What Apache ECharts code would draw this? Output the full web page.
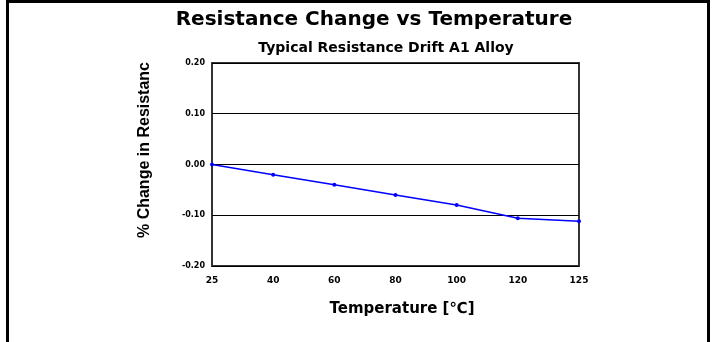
<!DOCTYPE html>
<html>
<head>
<meta charset="utf-8">
<script src="https://cdn.jsdelivr.net/npm/echarts@6/dist/echarts.min.js"></script>
<style>
  html, body { margin: 0; padding: 0; background: #fff; }
  #chart { width: 715px; height: 342px; }
</style>
</head>
<body>
<div id="chart"></div>
<script>
// temperature categories (°C)
const temps = ['25', '40', '60', '80', '100', '120', '125']
// % change in resistance
const drift = [0.00, -0.02, -0.04, -0.06, -0.08, -0.106, -0.112]

const chart = echarts.init(document.getElementById('chart'))
const font = 'Arial, "Liberation Sans", sans-serif'
const wide = '"DejaVu Sans", Arial, sans-serif'

chart.setOption({
  animation: false,
  backgroundColor: '#fff',
  title: [{
    text: 'Resistance Change vs Temperature',
    left: 369,
    top: 5,
    textAlign: 'center',
    textStyle: { fontFamily: wide, fontWeight: 'bold', fontSize: 20, color: '#000' }
  }, {
    text: 'Typical Resistance Drift A1 Alloy',
    left: 381,
    top: 36,
    textAlign: 'center',
    textStyle: { fontFamily: wide, fontWeight: 'bold', fontSize: 14, color: '#000' }
  }],
  graphic: [{
    type: 'polyline',
    shape: { points: [[7.5, 342], [7.5, 1.5], [708.5, 1.5], [708.5, 342]] },
    style: { stroke: '#000', lineWidth: 3, fill: null }
  }, {
    type: 'text',
    x: 145,
    y: 150,
    rotation: Math.PI / 2,
    style: {
      text: '% Change in Resistanc',
      font: 'bold 16px ' + font,
      fill: '#000',
      align: 'center',
      verticalAlign: 'middle'
    }
  }],
  grid: {
    left: 212,
    right: 136,
    top: 63,
    bottom: 76,
    show: true,
    borderColor: '#333',
    borderWidth: 2
  },
  xAxis: {
    type: 'category',
    data: temps,
    boundaryGap: false,
    name: 'Temperature [℃]',
    nameLocation: 'middle',
    nameGap: 36,
    nameTextStyle: { fontFamily: wide, fontWeight: 'bold', fontSize: 15, color: '#000', padding: [0, 0, 0, 13] },
    axisLine: { show: false },
    axisTick: { show: false },
    axisLabel: { fontFamily: wide, fontWeight: 'bold', fontSize: 9, color: '#000', margin: 10 }
  },
  yAxis: {
    type: 'value',
    min: -0.2,
    max: 0.2,
    interval: 0.1,
    axisLine: { show: false },
    axisTick: { show: false },
    splitLine: { lineStyle: { color: '#000', width: 1 } },
    axisLabel: {
      fontFamily: wide, fontWeight: 'bold', fontSize: 8, color: '#000', margin: 7,
      formatter: v => v.toFixed(2)
    }
  },
  series: [{
    type: 'line',
    data: drift,
    symbol: 'circle',
    symbolSize: 4,
    itemStyle: { color: '#0000ff' },
    lineStyle: { color: '#0000ff', width: 1.5 }
  }]
})
</script>
</body>
</html>
